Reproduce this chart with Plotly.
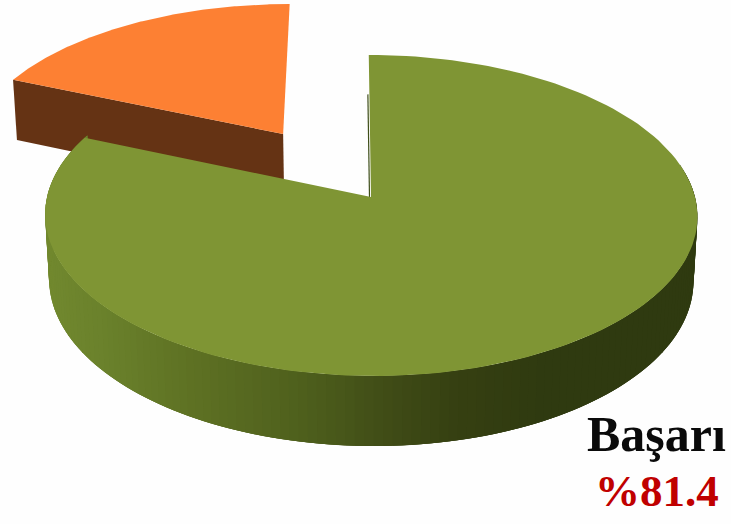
import numpy as np
import plotly.graph_objects as go

# Pie shares, in percent, clockwise from twelve o'clock
slice_names = ["Başarı", "Başarısız"]
slice_shares = [81.4, 18.6]
caption_title = "Başarı"
caption_value = "%81.4"

GREEN_TOP = "#7F9534"
ORANGE_TOP = "#FD8033"
ORANGE_SIDE = "#653314"
RIM_X = [45, 100, 200, 300, 400, 460, 550, 700]
RIM_RGB = [(114, 137, 47), (107, 130, 44), (93, 112, 35), (79, 96, 29),
           (62, 74, 22), (54, 64, 18), (47, 58, 16), (47, 58, 16)]

# Perspective projection of the unit disc onto the page
CX, CY = 371.0, 197.0
A, B, K = 324.0, 158.4, 0.115
SKEW = -2.5
DROP, SHRINK = 65.0, 0.012
EXPLODE = (-0.281, 0.417)


def project(u, v, low=False):
    u, v = np.asarray(u, float), np.asarray(v, float)
    w = 1 + K * v + (SHRINK if low else 0)
    x = CX + (A * u + SKEW * v) / w
    y = CY - (B * v - (DROP if low else 0)) / w
    return x, y


def sector(start, stop, du=0.0, dv=0.0, low=False):
    t = np.radians(np.linspace(start, stop, 160))
    u = np.r_[0, np.sin(t), 0] + du
    v = np.r_[0, np.cos(t), 0] + dv
    return project(u, v, low)


def polygon(x, y, color, line=0.0):
    return go.Scatter(x=x, y=y, mode="lines", fill="toself", fillcolor=color,
                      line=dict(color=color, width=line), hoverinfo="skip",
                      showlegend=False)


fig = go.Figure()
green_end = 360 * slice_shares[0] / sum(slice_shares)

# Exploded orange slice: wall first, lid on top
du, dv = EXPLODE
xa, ya = project(np.r_[-np.sin(np.radians(360 - green_end)), 0] + du,
                 np.r_[np.cos(np.radians(360 - green_end)), 0] + dv)
xb, yb = project(np.r_[0, -np.sin(np.radians(360 - green_end))] + du,
                 np.r_[0, np.cos(np.radians(360 - green_end))] + dv, low=True)
fig.add_trace(polygon(np.r_[xa, xb], np.r_[ya, yb], ORANGE_SIDE))
ox, oy = sector(green_end, 360, du, dv)
fig.add_trace(polygon(ox, oy, ORANGE_TOP))

# Rim of the green slice, shaded along the page; each band runs under the next
edges = np.radians(np.arange(78, green_end + 1, 1.5))
rx, ry = project(np.sin(edges), np.cos(edges))
bx, by = project(np.sin(edges), np.cos(edges), low=True)
channels = [np.interp(0.5 * (rx[:-1] + rx[1:]), RIM_X, [c[i] for c in RIM_RGB]) for i in range(3)]
for i in range(len(edges) - 1):
    shade = "rgb(%d,%d,%d)" % (channels[0][i], channels[1][i], channels[2][i])
    j = min(i + 3, len(edges) - 1)
    fig.add_trace(polygon(np.r_[rx[i:j + 1], bx[i:j + 1][::-1]],
                          np.r_[ry[i:j + 1], by[i:j + 1][::-1]], shade))

# Sliver of the inner wall seen beside the lid
wx, wy = project([0, 0], [0.7, 0.0])
fig.add_trace(go.Scatter(x=wx - 1.5, y=wy, mode="lines", line=dict(color="#3f4f1a", width=1.2),
                         hoverinfo="skip", showlegend=False))

gx, gy = sector(0, green_end)
fig.add_trace(polygon(gx, gy, GREEN_TOP))

fig.add_annotation(x=656, y=434, text="<b>%s</b>" % caption_title, showarrow=False,
                   font=dict(family="Liberation Serif", size=50, color="#0A0A0A"))
fig.add_annotation(x=657, y=491, text="<b>%s</b>" % caption_value, showarrow=False,
                   font=dict(family="Liberation Serif", size=45, color="#C00000"))

fig.update_layout(
    width=731, height=524, margin=dict(l=0, r=0, t=0, b=0),
    paper_bgcolor="#FEFEFE", plot_bgcolor="#FEFEFE", showlegend=False,
    xaxis=dict(range=[0, 731], visible=False, fixedrange=True),
    yaxis=dict(range=[524, 0], visible=False, fixedrange=True),
)
fig.write_html("out.html", config={"displayModeBar": False})
